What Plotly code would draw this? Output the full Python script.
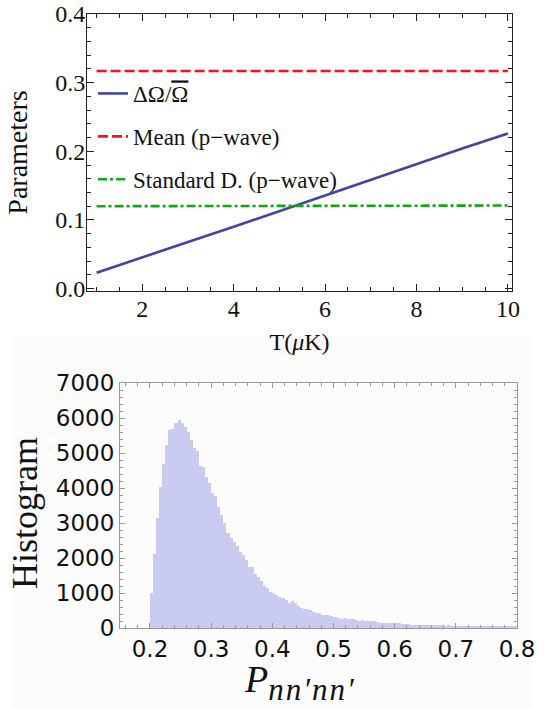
import numpy as np
import plotly.graph_objects as go

# ---------------- data: top panel ----------------
T_line = [1, 2, 3, 4, 5, 6, 7, 8, 9, 10]
dOmega = [0.023, 0.046, 0.068, 0.090, 0.113, 0.136, 0.159, 0.182, 0.204, 0.226]
T_const = [1, 10]
mean_pwave = [0.317, 0.317]
std_pwave = [0.120, 0.121]

# ---------------- data: histogram ----------------
bin_width = 0.005
bin_start = 0.2
hist_counts = [
    1000, 2114, 3133, 4019, 4676, 5229, 5650, 5700, 5848, 5943,
    5867, 5733, 5610, 5371, 5133, 5057, 4629, 4590, 4324, 4152,
    3848, 3771, 3467, 3229, 2990, 2724, 2562, 2467, 2352, 2181,
    2086, 1943, 1752, 1733, 1533, 1467, 1343, 1200, 1133, 1038,
    990, 943, 895, 848, 800, 724, 781, 705, 629, 562,
    543, 543, 514, 467, 438, 419, 371, 371, 362, 343,
    305, 276, 248, 276, 257, 248, 248, 219, 210, 219,
    210, 210, 200, 200, 171, 133, 143, 143, 143, 140,
    133, 133, 125, 105, 105, 95, 100, 95, 86, 90,
    86, 80, 83, 76, 80, 76, 70, 76, 70, 66,
    70, 62, 66, 60, 62, 57, 60, 55, 57, 52,
    55, 50, 52, 48, 50, 46, 48, 44, 45, 42,
]
bin_centers = bin_start + bin_width * (np.arange(len(hist_counts)) + 0.5)

W, H = 545, 709
def px_x(p):
    return p / W
def px_y(p):
    return 1 - p / H

SERIF = "Liberation Serif, Times New Roman, serif"
SANS = "DejaVu Sans, sans-serif"

fig = go.Figure()

fig.add_trace(go.Scatter(
    x=T_line, y=dOmega, mode="lines", xaxis="x", yaxis="y",
    line=dict(color="#4343a3", width=2.6),
    name="ΔΩ/<span style='text-decoration:overline'>Ω</span>",
    legendgroup="a",
))
fig.add_trace(go.Scatter(
    x=T_const, y=mean_pwave, mode="lines", xaxis="x", yaxis="y",
    line=dict(color="#ff1010", width=2.6, dash="10px,4px"),
    name="Mean (p\u2212wave)", legendgroup="b",
))
fig.add_trace(go.Scatter(
    x=T_const, y=std_pwave, mode="lines", xaxis="x", yaxis="y",
    line=dict(color="#10a810", width=2.6, dash="9px,3px,3px,3px"),
    name="Standard D. (p\u2212wave)", legendgroup="c",
))

fig.add_trace(go.Bar(
    x=bin_centers, y=hist_counts, width=bin_width, xaxis="x2", yaxis="y2",
    marker=dict(color="#c9cbf0", line=dict(width=0)),
    showlegend=False,
))

top_axis_common = dict(
    showline=True, mirror="allticks", linecolor="#222", linewidth=1,
    ticks="inside", ticklen=7, tickcolor="#222", showgrid=False, zeroline=False,
    tickfont=dict(family=SERIF, size=24, color="#111"), automargin=False,
)
hist_axis_common = dict(
    showline=True, mirror="allticks", linecolor="#999", linewidth=1,
    ticks="inside", ticklen=5, tickcolor="#999", showgrid=False, zeroline=False,
    tickfont=dict(family=SANS, size=23, color="#111"), automargin=False,
)

fig.update_layout(
    width=W, height=H,
    margin=dict(l=0, r=0, t=0, b=0, autoexpand=False),
    paper_bgcolor="white", plot_bgcolor="white",
    bargap=0,
    xaxis=dict(
        domain=[px_x(87), px_x(512)], anchor="y", range=[0.79, 10.09],
        tickvals=[2, 4, 6, 8, 10], ticklabelstandoff=-4,
        minor=dict(dtick=0.5, tick0=0, ticklen=4, tickcolor="#222", ticks="inside"),
        title=dict(text="T(<i>μ</i>K)", font=dict(family=SERIF, size=24, color="#111"), standoff=12),
        **top_axis_common,
    ),
    yaxis=dict(
        domain=[px_y(291), px_y(14)], anchor="x", range=[-0.0035, 0.4],
        tickvals=[0.0, 0.1, 0.2, 0.3, 0.4], tickformat=".1f", ticklabelstandoff=-4,
        minor=dict(dtick=0.02, tick0=0, ticklen=4, tickcolor="#222", ticks="inside"),
        title=dict(text="Parameters", font=dict(family=SERIF, size=28, color="#111"), standoff=19),
        **top_axis_common,
    ),
    xaxis2=dict(
        domain=[px_x(120), px_x(517)], anchor="y2", range=[0.151, 0.8],
        tickvals=[0.2, 0.3, 0.4, 0.5, 0.6, 0.7, 0.8], tickformat=".1f",
        minor=dict(dtick=0.02, tick0=0, ticklen=3, tickcolor="#999", ticks="inside"),
        **hist_axis_common,
    ),
    yaxis2=dict(
        domain=[px_y(628), px_y(383)], anchor="x2", range=[0, 7000],
        tickvals=[0, 1000, 2000, 3000, 4000, 5000, 6000, 7000],
        minor=dict(dtick=200, tick0=0, ticklen=3, tickcolor="#999", ticks="inside"),
        **hist_axis_common,
    ),
    annotations=[
        dict(
            text="Histogram", xref="paper", yref="paper",
            x=px_x(25), y=px_y(513), xanchor="center", yanchor="middle",
            textangle=-90, showarrow=False,
            font=dict(family=SERIF, size=36, color="#111"),
        ),
        dict(
            text="<i>P</i><sub><span style='font-size:31px;letter-spacing:2px'><i>nn′nn′</i></span></sub>",
            xref="paper", yref="paper",
            x=px_x(242), y=px_y(682), xanchor="left", yanchor="middle",
            showarrow=False,
            font=dict(family=SERIF, size=38, color="#111"),
        ),
    ],
    legend=dict(
        x=px_x(93), y=px_y(72), xanchor="left", yanchor="top",
        bgcolor="rgba(0,0,0,0)", borderwidth=0,
        font=dict(family=SERIF, size=23, color="#111"),
        tracegroupgap=10, itemwidth=30,
    ),
    shapes=[dict(
        type="rect", xref="paper", yref="paper",
        x0=px_x(12), x1=px_x(530), y0=0, y1=px_y(336),
        fillcolor="#fcfcfc", line=dict(width=0), layer="below",
    )],
)

fig.write_html(
    "out.html",
    config={"displayModeBar": False},
    post_script="document.body.style.margin='0px';document.body.style.overflow='hidden';",
)
